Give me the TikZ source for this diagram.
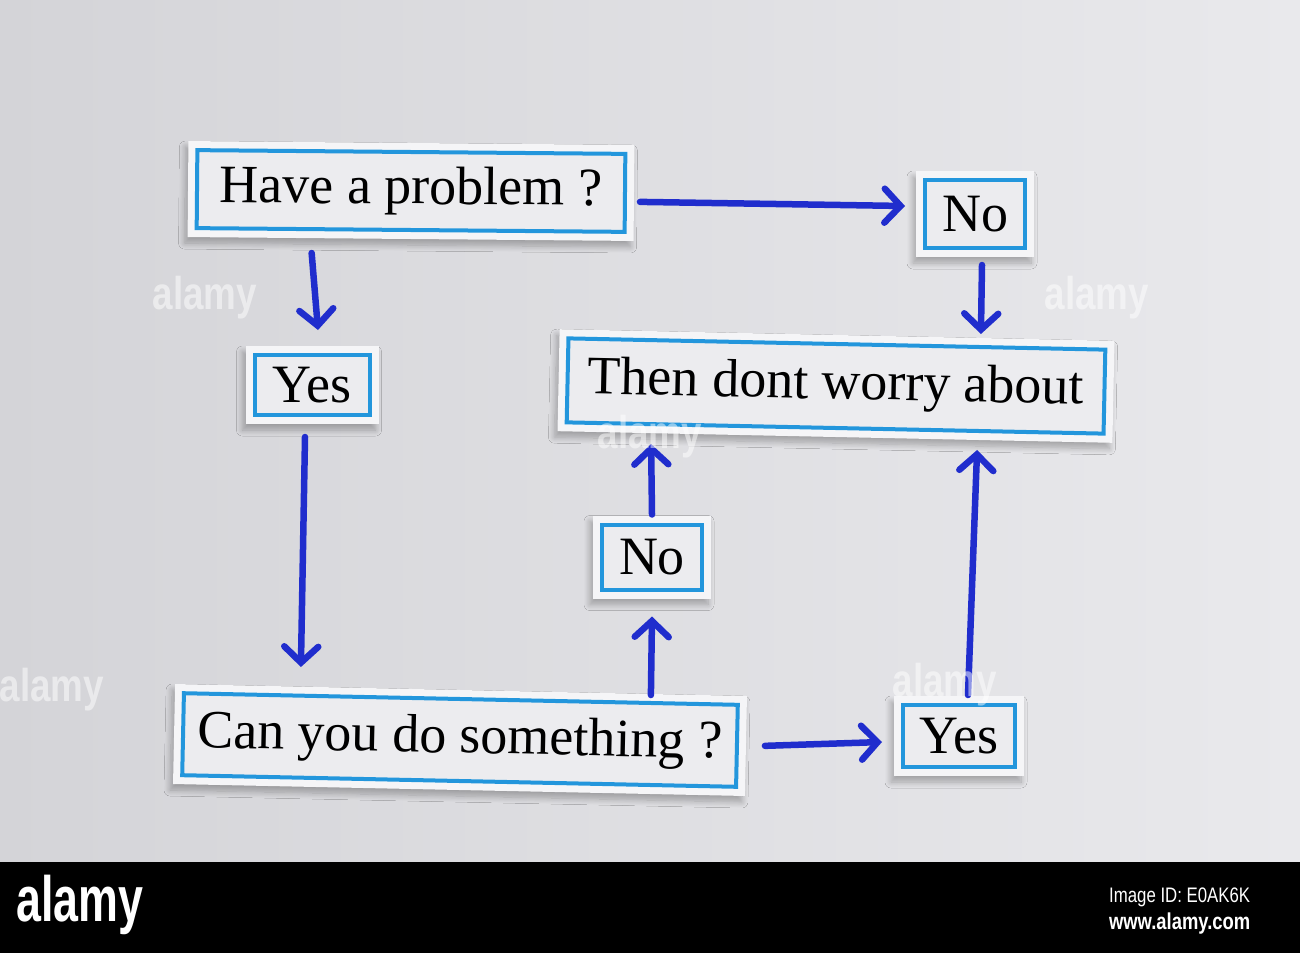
\documentclass[tikz,border=0pt]{standalone}
\usepackage{fontspec}
\setmainfont{Liberation Serif}
\newfontfamily\wmfont{Liberation Sans}
\usetikzlibrary{arrows.meta,shadows.blur}
\definecolor{bgleft}{RGB}{212,212,216}
\definecolor{bgright}{RGB}{233,233,236}
\definecolor{paper}{RGB}{245,245,247}
\definecolor{boxfill}{RGB}{236,236,239}
\definecolor{boxblue}{RGB}{35,150,220}
\definecolor{ink}{RGB}{32,45,205}
\tikzset{
  paperbox/.style={fill=paper, draw=none, inner sep=0pt,
    blur shadow={shadow xshift=-3pt, shadow yshift=-6pt, shadow blur radius=6pt, shadow blur steps=10, shadow opacity=28, shadow scale=1}},
  framebox/.style={fill=boxfill, draw=boxblue, line width=4pt, inner sep=0pt,
    font=\fontsize{54}{60}\selectfont},
  inkarrow/.style={draw=ink, line width=6.5pt, line cap=round,
    -{Straight Barb[length=16pt,width=34pt,line cap=round]}},
  watermark/.style={text=white, opacity=0.5, font=\wmfont\bfseries\fontsize{46}{50}\selectfont, xscale=0.8},
  bandtext/.style={text=white, font=\wmfont, anchor=east, xscale=0.8}
}
% #1 name, #2 centre, #3 rotation, #4 frame width, #5 frame height, #6 text
\newcommand\mycard[6]{%
  \node[paperbox, rotate=#3, minimum width=#4pt+18pt, minimum height=#5pt+18pt] (#1p) at (#2) {};
  \node[framebox, rotate=#3, minimum width=#4pt, minimum height=#5pt] (#1) at (#2) {#6};}
\begin{document}
\begin{tikzpicture}[x=1pt,y=-1pt]
\useasboundingbox (0,0) rectangle (1300,953);
\shade[left color=bgleft, right color=bgright] (0,0) rectangle (1300,862);
% cards
\mycard{hp}{411,191}{-0.5}{428}{78}{Have a problem ?}
\mycard{no1}{975,214}{0}{100}{68}{No}
\mycard{then}{836,386}{-1.2}{537}{84}{Then dont worry about}
\mycard{yes1}{312,385}{0}{115}{60}{Yes}
\mycard{no2}{652,557}{0}{100}{65}{No}
\mycard{can}{460,740}{-1.2}{554}{82}{Can you do something ?}
\mycard{yes2}{959,736}{0}{112}{62}{Yes}
% arrows
\draw[inkarrow] ([xshift=13pt,yshift=-9pt]hp.east) -- ([xshift=-18pt,yshift=8pt]no1.west);
\draw[inkarrow] ([xshift=-99pt,yshift=-21pt]hp.south) -- ([xshift=6pt,yshift=23pt]yes1.north);
\draw[inkarrow] ([xshift=7pt,yshift=-15pt]no1.south) -- ([xshift=144pt,yshift=8pt]then.north);
\draw[inkarrow] ([xshift=-7pt,yshift=-20pt]yes1.south) -- ([xshift=-160pt,yshift=30pt]can.north);
\draw[inkarrow] ([xshift=26pt]can.east) -- ([xshift=-19pt,yshift=-6pt]yes2.west);
\draw[inkarrow] ([xshift=190pt,yshift=2pt]can.north) -- ([yshift=-25pt]no2.south);
\draw[inkarrow] ([yshift=8pt]no2.north) -- ([xshift=-184pt,yshift=-14pt]then.south);
\draw[inkarrow] ([xshift=9pt,yshift=8pt]yes2.north) -- ([xshift=142pt,yshift=-20pt]then.south);
% watermarks
\node[watermark] (w1) at (205,298) {alamy};
\node[watermark] (w2) at (1097,298) {alamy};
\node[watermark] (w3) at (650,437) {alamy};
\node[watermark] (w4) at (52,690) {alamy};
\node[watermark] (w5) at (945,685) {alamy};
% bottom band
\fill[black] (0,862) rectangle (1300,953);
\node[text=white, font=\wmfont\bfseries\fontsize{64}{68}\selectfont, xscale=0.7, anchor=west] (logo) at (14,905) {alamy};
\node[bandtext, font=\wmfont\fontsize{21}{24}\selectfont] (imgid) at (1253,897) {Image ID: E0AK6K};
\node[bandtext, font=\wmfont\bfseries\fontsize{23}{26}\selectfont] (url) at (1253,924) {www.alamy.com};
\end{tikzpicture}
\end{document}
